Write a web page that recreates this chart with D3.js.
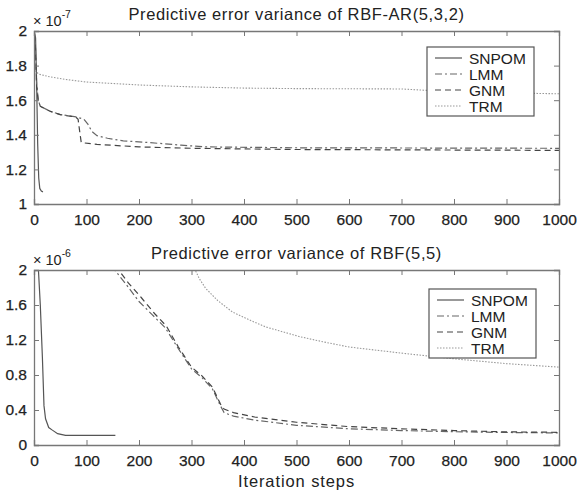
<!DOCTYPE html>
<html><head><meta charset="utf-8">
<script src="https://cdn.jsdelivr.net/npm/d3@7"></script>
<style>body{margin:0;background:#fff}svg{display:block}text{font-family:"Liberation Sans",Arial,sans-serif;fill:#222}</style>
</head><body><svg id="c" width="581" height="494"></svg>
<script>
// ---------- data ----------
const seriesNames = ["SNPOM","LMM","GNM","TRM"];
const xTicks = [0,100,200,300,400,500,600,700,800,900,1000];
const topYTicks = [1,1.2,1.4,1.6,1.8,2];
const botYTicks = [0,0.4,0.8,1.2,1.6,2];
const topTitle = "Predictive error variance of RBF-AR(5,3,2)";
const botTitle = "Predictive error variance of RBF(5,5)";
const xLabel = "Iteration steps";

// top panel (×1e-7)
const topSNPOM = [[0,2.0],[3,1.96],[5,1.7],[7,1.35],[9,1.15],[11,1.09],[14,1.075],[17,1.07]];
const topLMM = [[1,1.99],[3,1.9],[5,1.7],[8,1.6],[12,1.565],[30,1.537],[50,1.517],[80,1.504],[95,1.49],[103,1.46],[110,1.42],[120,1.395],[140,1.38],[170,1.365],[220,1.355],[280,1.34],[330,1.33],[500,1.325],[1000,1.322]];
const topGNM = [[1,1.98],[3,1.88],[5,1.68],[8,1.6],[12,1.565],[30,1.537],[50,1.517],[80,1.502],[84,1.49],[87,1.42],[90,1.355],[120,1.345],[200,1.33],[300,1.322],[500,1.315],[1000,1.31]];
const topTRM = [[1,1.77],[10,1.75],[30,1.735],[60,1.72],[100,1.705],[200,1.688],[300,1.677],[400,1.67],[500,1.667],[700,1.665],[760,1.655],[850,1.645],[1000,1.637]];

// bottom panel (×1e-6)
const botSNPOM = [[8,2.05],[12,1.6],[16,1.0],[19,0.45],[22,0.3],[28,0.2],[35,0.17],[45,0.13],[60,0.11],[155,0.11]];
const botLMM = [[147,2.05],[175,1.84],[200,1.64],[225,1.49],[250,1.34],[275,1.1],[300,0.87],[320,0.77],[340,0.64],[355,0.45],[362,0.37],[380,0.33],[420,0.285],[500,0.225],[600,0.185],[700,0.165],[800,0.152],[900,0.143],[1000,0.138]];
const botGNM = [[155,2.05],[180,1.85],[205,1.68],[230,1.5],[252,1.36],[275,1.12],[300,0.89],[320,0.79],[340,0.66],[355,0.47],[362,0.41],[380,0.37],[420,0.32],[500,0.26],[600,0.21],[700,0.185],[800,0.165],[900,0.15],[1000,0.145]];
const botTRM = [[303,2.05],[315,1.9],[327,1.79],[350,1.65],[378,1.52],[410,1.43],[441,1.35],[505,1.24],[550,1.18],[600,1.12],[700,1.05],[800,0.985],[900,0.93],[1000,0.89]];

// ---------- styles ----------
const styles = {
  SNPOM:{stroke:"#555",dash:null,w:1.2},
  LMM:{stroke:"#666",dash:"7,3,2,3",w:1.2},
  GNM:{stroke:"#444",dash:"6,4",w:1.2},
  TRM:{stroke:"#999",dash:"1.5,1.5",w:1.1}
};

const svg = d3.select("#c");
const L=34, R=559;

function panel(cfg){
  const x = d3.scaleLinear().domain([0,1000]).range([L,R]);
  const y = d3.scaleLinear().domain(cfg.ydom).range([cfg.bot,cfg.top]);
  const g = svg.append("g");
  const cid = "clip"+cfg.id;
  svg.append("clipPath").attr("id",cid).append("rect")
    .attr("x",L).attr("y",cfg.top).attr("width",R-L).attr("height",cfg.bot-cfg.top);
  const line = d3.line().x(d=>x(d[0])).y(d=>y(d[1]));
  const gl = g.append("g").attr("clip-path",`url(#${cid})`);
  cfg.series.forEach((s,i)=>{
    const st = styles[seriesNames[i]];
    gl.append("path").attr("d",line(s)).attr("fill","none")
      .attr("stroke",st.stroke).attr("stroke-width",st.w)
      .attr("stroke-dasharray",st.dash);
  });
  const fmt = d=>String(d);
  g.append("g").attr("transform",`translate(0,${cfg.bot})`)
    .call(d3.axisBottom(x).tickValues(xTicks).tickSize(-5).tickPadding(10).tickFormat(fmt));
  g.append("g").attr("transform",`translate(0,${cfg.top})`)
    .call(d3.axisTop(x).tickValues(xTicks).tickSize(-5).tickFormat(""));
  g.append("g").attr("transform",`translate(${L},0)`)
    .call(d3.axisLeft(y).tickValues(cfg.yt).tickSize(-5).tickPadding(7).tickFormat(fmt));
  g.append("g").attr("transform",`translate(${R},0)`)
    .call(d3.axisRight(y).tickValues(cfg.yt).tickSize(-5).tickFormat(""));
  g.selectAll(".domain").attr("stroke","#777").attr("stroke-width",1.3);
  g.selectAll(".tick line").attr("stroke","#777");
  g.selectAll(".tick text").attr("font-size",15.5).attr("fill","#222")
    .attr("stroke","#222").attr("stroke-width",0.25)
    .attr("font-family","Liberation Sans, Arial, sans-serif");
  svg.append("text").attr("x",(L+R)/2).attr("y",cfg.top-11).attr("text-anchor","middle")
    .attr("font-size",16.5).attr("letter-spacing",0.6).text(cfg.title);
  const ex = svg.append("text").attr("x",L-1).attr("y",cfg.top-5).attr("font-size",14.5);
  ex.append("tspan").text("× 10");
  ex.append("tspan").attr("dy",-8).attr("font-size",10.5).text(cfg.exp);
  const lg = svg.append("g");
  lg.append("rect").attr("x",cfg.lx).attr("y",cfg.ly).attr("width",107).attr("height",69)
    .attr("fill","#fff").attr("stroke","#555").attr("stroke-width",1.2);
  seriesNames.forEach((n,i)=>{
    const yy = cfg.ly+11+i*16;
    const st = styles[n];
    lg.append("line").attr("x1",cfg.lx+8).attr("x2",cfg.lx+35).attr("y1",yy).attr("y2",yy)
      .attr("stroke",st.stroke).attr("stroke-width",st.w).attr("stroke-dasharray",st.dash);
    lg.append("text").attr("x",cfg.lx+42).attr("y",yy+5.5).attr("font-size",15.5).text(n);
  });
}

panel({id:1,top:31,bot:204,ydom:[1,2],yt:topYTicks,title:topTitle,exp:"-7",
  series:[topSNPOM,topLMM,topGNM,topTRM],lx:427,ly:47});
panel({id:2,top:270,bot:445,ydom:[0,2],yt:botYTicks,title:botTitle,exp:"-6",
  series:[botSNPOM,botLMM,botGNM,botTRM],lx:429,ly:289});

svg.append("text").attr("x",(L+R)/2).attr("y",487).attr("text-anchor","middle")
  .attr("font-size",16.5).attr("letter-spacing",0.9).text(xLabel);
</script></body></html>
